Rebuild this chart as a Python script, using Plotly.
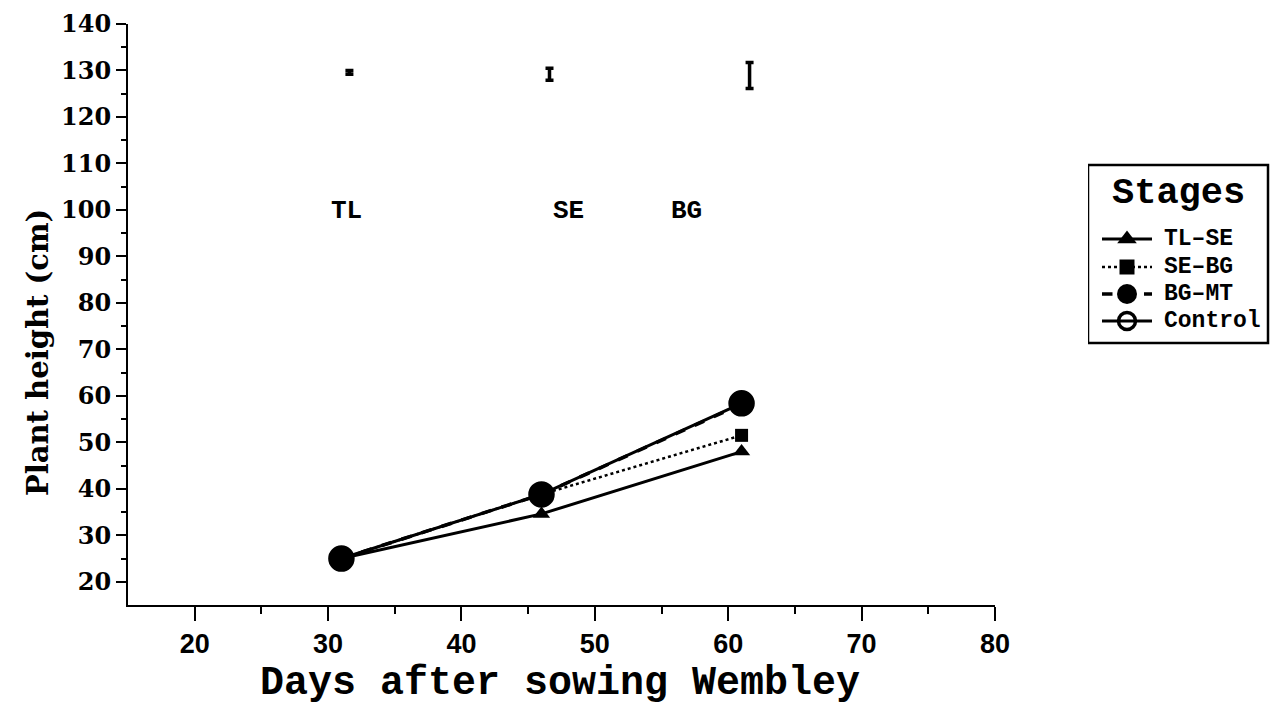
import plotly.graph_objects as go

# Sampling days and plant heights (cm) per defoliation stage
days = [31, 46, 61]
tl_se = [25.0, 34.6, 48.0]
se_bg = [25.0, 38.8, 51.5]
bg_mt = [25.0, 38.8, 58.2]
control = [25.0, 38.8, 58.4]

# LSD bars drawn near the top of the plot
lsd_days = [31.6, 46.6, 61.6]
lsd_centre = [129.6, 129.2, 128.9]
lsd_half = [0.4, 1.3, 2.8]

# Growth stage labels
stage_names = ["TL", "SE", "BG"]
stage_days = [31.4, 48.0, 56.9]
stage_height = 99.7

SERIF = "DejaVu Serif"
MONO = "Liberation Mono"
SANS = "Liberation Sans"
BLACK = "#000000"

# Page geometry (pixels)
FIG_W, FIG_H = 1273, 705
M_L, M_T, M_B = 128, 24, 100
PLOT_RIGHT = 995
PAPER_W = FIG_W - M_L
MAIN_DOMAIN = [0, (PLOT_RIGHT - M_L) / PAPER_W]

# Series styles: name, values, dash, line width, symbol, marker size, marker line width
series = [
    ("TL\u2013SE", tl_se, "solid", 3, "triangle-up", 15, 0),
    ("SE\u2013BG", se_bg, "dot", 2.5, "square", 13, 0),
    ("BG\u2013MT", bg_mt, "dash", 3.5, "circle", 23, 0),
    ("Control", control, "solid", 3, "circle-open", 23, 3.5),
]

fig = go.Figure()

for name, vals, dash, lw, sym, ms, mlw in series:
    fig.add_trace(go.Scatter(
        x=days, y=vals, name=name, mode="lines+markers", showlegend=False,
        line=dict(color=BLACK, width=lw, dash=dash),
        marker=dict(symbol=sym, size=ms, color=BLACK, opacity=1,
                    line=dict(width=mlw, color=BLACK)),
    ))

fig.add_trace(go.Scatter(
    x=lsd_days, y=lsd_centre, mode="markers", showlegend=False,
    marker=dict(size=1, color=BLACK),
    error_y=dict(type="data", array=lsd_half, visible=True,
                 color=BLACK, thickness=3.5, width=4),
))

for name, d in zip(stage_names, stage_days):
    fig.add_annotation(x=d, y=stage_height, text=f"<b>{name}</b>", showarrow=False,
                       xanchor="center", yanchor="middle",
                       font=dict(family=MONO, size=26, color=BLACK))

fig.add_annotation(xref="x domain", yref="y domain", x=-0.104, y=0.435, textangle=-90,
                   xanchor="center", yanchor="middle",
                   text="<b>Plant height (cm)</b>", showarrow=False,
                   font=dict(family=SERIF, size=29, color=BLACK))
fig.add_annotation(xref="x domain", yref="y domain", x=0.498, y=-0.135,
                   xanchor="center", yanchor="middle",
                   text="<b>Days after sowing Wembley</b>", showarrow=False,
                   font=dict(family=MONO, size=40, color=BLACK))

# Key box on a pixel-scaled overlay axis pair (x2/y2)
KEY_LEFT, KEY_RIGHT, KEY_TOP, KEY_BOTTOM = 1088, 1268, 165, 343
KEY_ROWS = [239, 267, 294, 321]
KEY_SAMPLE_X = [1102, 1127, 1152]
KEY_TEXT_X = 1162
key_marker_size = {"triangle-up": 17, "square": 15, "circle": 20, "circle-open": 17}

fig.add_shape(type="rect", xref="x2", yref="y2", x0=KEY_LEFT, x1=KEY_RIGHT,
              y0=KEY_TOP, y1=KEY_BOTTOM, line=dict(color=BLACK, width=2.5),
              fillcolor="white", layer="below")
fig.add_annotation(xref="x2", yref="y2", x=(KEY_LEFT + KEY_RIGHT) / 2, y=193,
                   text="<b>Stages</b>", showarrow=False, xanchor="center", yanchor="middle",
                   font=dict(family=MONO, size=37, color=BLACK))

for (name, vals, dash, lw, sym, ms, mlw), row in zip(series, KEY_ROWS):
    fig.add_trace(go.Scatter(
        x=KEY_SAMPLE_X, y=[row] * 3, xaxis="x2", yaxis="y2",
        mode="lines+markers", showlegend=False, hoverinfo="skip",
        line=dict(color=BLACK, width=lw, dash=dash),
        marker=dict(symbol=sym, size=[0, key_marker_size[sym], 0], color=BLACK,
                    opacity=1, line=dict(width=mlw, color=BLACK)),
    ))
    fig.add_annotation(xref="x2", yref="y2", x=KEY_TEXT_X, y=row,
                       text=f"<b>{name}</b>", showarrow=False,
                       xanchor="left", yanchor="middle",
                       font=dict(family=MONO, size=23, color=BLACK))

fig.update_layout(
    xaxis=dict(
        domain=MAIN_DOMAIN,
        range=[15, 80], tickvals=[20, 30, 40, 50, 60, 70, 80],
        showgrid=False, zeroline=False, showline=True, linecolor=BLACK, linewidth=2,
        ticks="outside", ticklen=14, tickwidth=2, tickcolor=BLACK,
        minor=dict(tickvals=[25, 35, 45, 55, 65, 75], ticks="outside", ticklen=7,
                   tickwidth=2, tickcolor=BLACK),
        tickfont=dict(family=SANS, size=27, color=BLACK, weight="bold"),
    ),
    yaxis=dict(
        range=[15, 140], tickvals=list(range(20, 141, 10)),
        showgrid=False, zeroline=False, showline=True, linecolor=BLACK, linewidth=2,
        ticks="outside", ticklen=10, tickwidth=2, tickcolor=BLACK,
        minor=dict(tickvals=list(range(25, 140, 10)), ticks="outside", ticklen=5,
                   tickwidth=2, tickcolor=BLACK),
        tickfont=dict(family=SERIF, size=24, color=BLACK, weight="bold"),
    ),
    xaxis2=dict(domain=[(KEY_LEFT - M_L) / PAPER_W, 1], range=[KEY_LEFT, FIG_W],
                anchor="y2", visible=False, fixedrange=True),
    yaxis2=dict(domain=[0, 1], range=[FIG_H - M_B, M_T],
                anchor="x2", visible=False, fixedrange=True),
    width=FIG_W, height=FIG_H,
    margin=dict(l=M_L, r=0, t=M_T, b=M_B, autoexpand=False),
    paper_bgcolor="white", plot_bgcolor="white",
    showlegend=False,
)

fig.write_html("out.html")
